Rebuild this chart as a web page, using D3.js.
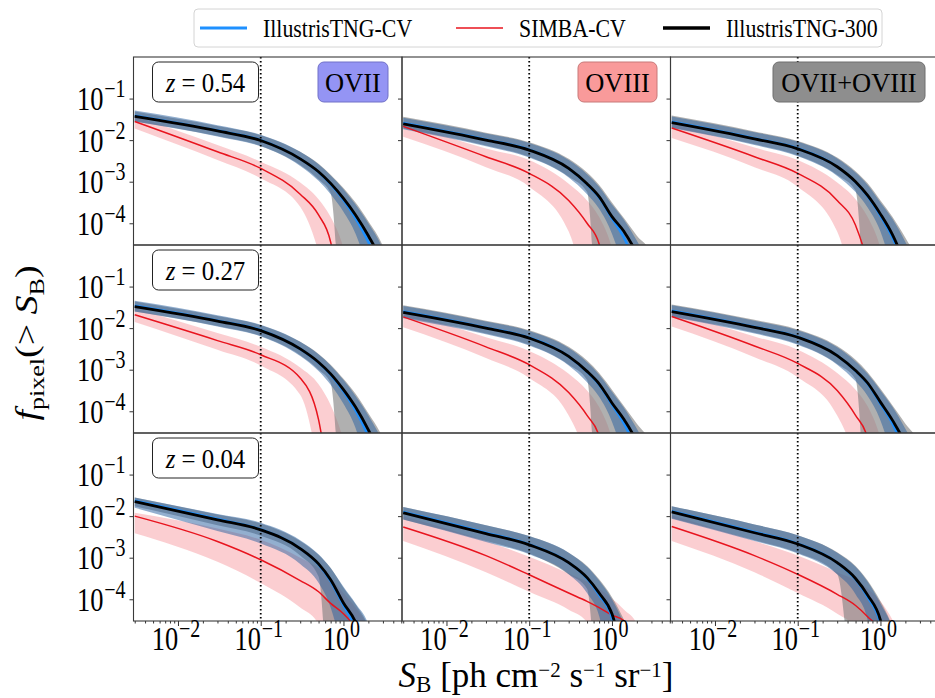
<!DOCTYPE html>
<html>
<head>
<meta charset="utf-8">
<script src="https://cdn.jsdelivr.net/npm/d3@7"></script>
<style>
  body { margin: 0; background: #fff; }
</style>
</head>
<body>
<div id="chart"></div>
<script>
// Surface brightness grid (ph cm^-2 s^-1 sr^-1) shared by every curve
const sbGrid = [0.003, 0.03, 0.1, 0.3, 0.5, 0.7, 1.0, 1.4, 2.0, 3.0, 5.0];

const redshifts = ["0.54", "0.27", "0.04"];
const ions = ["OVII", "OVIII", "OVII+OVIII"];
const seriesNames = ["IllustrisTNG-CV", "SIMBA-CV", "IllustrisTNG-300"];
const yTicks = [1e-1, 1e-2, 1e-3, 1e-4];
const yTickExp = ["−1", "−2", "−3", "−4"];
const xTicks = [1e-2, 1e-1, 1];
const xTickExp = ["−2", "−1", "0"];
const xMinorTicks = [3e-3, 4e-3, 5e-3, 6e-3, 7e-3, 8e-3, 9e-3,
  2e-2, 3e-2, 4e-2, 5e-2, 6e-2, 7e-2, 8e-2, 9e-2,
  0.2, 0.3, 0.4, 0.5, 0.6, 0.7, 0.8, 0.9, 2, 3, 4, 5];
const sbCut = 0.1;

// log10 f_pixel(>S_B), one row per panel (row-major: z=0.54, 0.27, 0.04 x OVII, OVIII, OVII+OVIII)
const tngCvMid = [
  [-1.41, -1.77, -2.00, -2.45, -2.77, -3.06, -3.44, -3.88, -4.45, -5.3, -7],
  [-1.59, -1.99, -2.23, -2.68, -3.06, -3.38, -3.88, -4.35, -5.1, -6.5, -8],
  [-1.56, -1.96, -2.20, -2.64, -3.01, -3.35, -3.82, -4.35, -5.1, -6.5, -8],
  [-1.46, -1.82, -2.05, -2.50, -2.83, -3.12, -3.52, -3.98, -4.6, -5.5, -7],
  [-1.60, -1.99, -2.23, -2.68, -3.05, -3.36, -3.84, -4.3, -5.0, -6.5, -8],
  [-1.58, -1.97, -2.21, -2.66, -3.03, -3.34, -3.82, -4.3, -5.05, -6.5, -8],
  [-1.63, -2.07, -2.32, -2.78, -3.16, -3.56, -4.15, -4.7, -5.8, -7, -8],
  [-1.90, -2.40, -2.68, -3.12, -3.50, -3.90, -4.45, -6, -8, -8, -8],
  [-1.88, -2.38, -2.66, -3.12, -3.52, -3.95, -4.6, -6.5, -8, -8, -8]
];
const tngCvLo = [
  [-1.55, -1.91, -2.15, -2.62, -2.98, -3.30, -3.72, -4.25, -5.2, -7, -8],
  [-1.74, -2.15, -2.42, -2.90, -3.30, -3.65, -4.25, -5.2, -7, -8, -8],
  [-1.71, -2.12, -2.39, -2.86, -3.25, -3.62, -4.2, -5.2, -7, -8, -8],
  [-1.60, -1.96, -2.20, -2.67, -3.03, -3.36, -3.82, -4.4, -5.5, -7, -8],
  [-1.76, -2.15, -2.42, -2.90, -3.30, -3.65, -4.25, -5.2, -7, -8, -8],
  [-1.73, -2.13, -2.40, -2.88, -3.28, -3.63, -4.22, -5.2, -7, -8, -8],
  [-1.80, -2.36, -2.66, -3.15, -3.60, -4.2, -5.5, -8, -8, -8, -8],
  [-2.08, -2.62, -2.92, -3.40, -3.85, -4.4, -6, -8, -8, -8, -8],
  [-2.06, -2.60, -2.90, -3.40, -3.88, -4.5, -6.5, -8, -8, -8, -8]
];
const tngCvHi = [
  [-1.29, -1.64, -1.87, -2.28, -2.58, -2.85, -3.18, -3.55, -4.0, -4.62, -6],
  [-1.46, -1.84, -2.07, -2.48, -2.82, -3.12, -3.55, -3.92, -4.42, -5.1, -7],
  [-1.43, -1.81, -2.04, -2.44, -2.78, -3.08, -3.50, -3.90, -4.45, -5.2, -7],
  [-1.34, -1.69, -1.92, -2.33, -2.63, -2.90, -3.25, -3.63, -4.1, -4.75, -6],
  [-1.47, -1.84, -2.07, -2.48, -2.82, -3.12, -3.53, -3.92, -4.42, -5.1, -6.5],
  [-1.45, -1.82, -2.05, -2.46, -2.80, -3.10, -3.50, -3.90, -4.42, -5.1, -6.5],
  [-1.55, -1.95, -2.16, -2.58, -2.92, -3.25, -3.70, -4.1, -4.6, -6, -8],
  [-1.78, -2.22, -2.48, -2.88, -3.22, -3.55, -4.0, -4.6, -5.5, -8, -8],
  [-1.76, -2.20, -2.46, -2.88, -3.22, -3.58, -4.1, -4.7, -6, -8, -8]
];
const simbaMid = [
  [-1.55, -2.28, -2.68, -3.30, -3.80, -4.45, -6.5, -8, -8, -8, -8],
  [-1.67, -2.40, -2.80, -3.45, -4.0, -4.5, -6.5, -8, -8, -8, -8],
  [-1.71, -2.40, -2.80, -3.45, -4.05, -5.0, -7, -8, -8, -8, -8],
  [-1.68, -2.30, -2.64, -3.20, -4.2, -6, -8, -8, -8, -8, -8],
  [-1.73, -2.45, -2.88, -3.55, -4.1, -4.6, -6.5, -8, -8, -8, -8],
  [-1.72, -2.43, -2.85, -3.50, -4.1, -4.65, -6.5, -8, -8, -8, -8],
  [-2.00, -2.61, -3.05, -3.55, -3.82, -4.1, -4.35, -4.7, -5.5, -7, -8],
  [-2.26, -2.95, -3.41, -3.85, -4.05, -4.2, -4.38, -4.52, -5.2, -7, -8],
  [-2.25, -2.95, -3.40, -3.88, -4.15, -4.42, -4.8, -6, -8, -8, -8]
];
const simbaLo = [
  [-1.72, -2.48, -2.92, -3.60, -4.7, -6, -8, -8, -8, -8, -8],
  [-1.92, -2.65, -3.12, -4.2, -6, -8, -8, -8, -8, -8, -8],
  [-1.95, -2.65, -3.12, -4.2, -6, -8, -8, -8, -8, -8, -8],
  [-1.85, -2.52, -2.90, -3.6, -5.5, -8, -8, -8, -8, -8, -8],
  [-1.98, -2.72, -3.20, -4.1, -5.5, -8, -8, -8, -8, -8, -8],
  [-1.96, -2.70, -3.18, -4.1, -5.5, -8, -8, -8, -8, -8, -8],
  [-2.41, -3.10, -3.61, -4.2, -4.6, -6, -8, -8, -8, -8, -8],
  [-2.60, -3.35, -3.82, -4.25, -4.55, -6, -8, -8, -8, -8, -8],
  [-2.60, -3.35, -3.85, -4.35, -4.7, -6, -8, -8, -8, -8, -8]
];
const simbaHi = [
  [-1.42, -2.12, -2.52, -3.02, -3.42, -3.85, -4.6, -6, -8, -8, -8],
  [-1.58, -2.20, -2.48, -3.05, -3.45, -3.85, -4.6, -6, -8, -8, -8],
  [-1.58, -2.18, -2.48, -3.02, -3.42, -3.85, -4.6, -6, -8, -8, -8],
  [-1.52, -2.12, -2.45, -2.95, -3.35, -3.85, -4.7, -6, -8, -8, -8],
  [-1.58, -2.22, -2.55, -3.10, -3.50, -3.90, -4.65, -6, -8, -8, -8],
  [-1.58, -2.20, -2.52, -3.08, -3.48, -3.88, -4.65, -6, -8, -8, -8],
  [-1.92, -2.30, -2.57, -3.00, -3.25, -3.50, -3.85, -4.2, -4.7, -6, -8],
  [-2.00, -2.60, -2.98, -3.38, -3.58, -3.75, -3.98, -4.25, -4.6, -6, -8],
  [-1.98, -2.60, -2.95, -3.35, -3.55, -3.75, -4.05, -4.5, -5.2, -7, -8]
];
const tng300Mid = [
  [-1.43, -1.78, -2.01, -2.45, -2.76, -3.04, -3.40, -3.80, -4.30, -5.0, -6.5],
  [-1.61, -2.00, -2.24, -2.68, -3.05, -3.36, -3.84, -4.2, -4.75, -5.8, -7.5],
  [-1.58, -1.97, -2.21, -2.64, -3.00, -3.33, -3.78, -4.28, -5.0, -6, -7.5],
  [-1.48, -1.83, -2.06, -2.50, -2.82, -3.10, -3.48, -3.90, -4.45, -5.2, -6.5],
  [-1.62, -2.00, -2.24, -2.68, -3.04, -3.34, -3.80, -4.2, -4.75, -5.8, -7],
  [-1.60, -1.98, -2.22, -2.66, -3.02, -3.32, -3.78, -4.22, -4.8, -5.9, -7],
  [-1.65, -2.09, -2.33, -2.78, -3.15, -3.53, -4.09, -4.55, -5.5, -7, -8],
  [-1.92, -2.42, -2.69, -3.12, -3.48, -3.85, -4.35, -5.5, -7, -8, -8],
  [-1.90, -2.40, -2.67, -3.12, -3.50, -3.90, -4.5, -6, -8, -8, -8]
];
const tng300Lo = [
  [-1.55, -1.90, -2.14, -2.60, -2.95, -3.28, -7, -8, -8, -8, -8],
  [-1.72, -2.13, -2.40, -2.88, -3.25, -7, -8, -8, -8, -8, -8],
  [-1.70, -2.10, -2.37, -2.84, -3.22, -7, -8, -8, -8, -8, -8],
  [-1.60, -1.95, -2.19, -2.65, -3.00, -3.32, -7, -8, -8, -8, -8],
  [-1.74, -2.13, -2.40, -2.88, -3.25, -7, -8, -8, -8, -8, -8],
  [-1.72, -2.11, -2.38, -2.86, -3.23, -7, -8, -8, -8, -8, -8],
  [-1.76, -2.22, -2.47, -2.95, -3.45, -7, -8, -8, -8, -8, -8],
  [-2.08, -2.60, -2.90, -3.40, -3.75, -7, -8, -8, -8, -8, -8],
  [-2.05, -2.58, -2.88, -3.40, -7, -8, -8, -8, -8, -8, -8]
];
const tng300Hi = [
  [-1.31, -1.66, -1.88, -2.28, -2.57, -2.83, -3.15, -3.50, -3.95, -4.55, -6],
  [-1.44, -1.82, -2.05, -2.45, -2.78, -3.08, -3.50, -3.88, -4.3, -4.75, -7],
  [-1.41, -1.79, -2.02, -2.42, -2.75, -3.04, -3.45, -3.85, -4.35, -5.0, -6.5],
  [-1.36, -1.71, -1.93, -2.33, -2.62, -2.88, -3.22, -3.58, -4.05, -4.65, -6],
  [-1.45, -1.82, -2.05, -2.45, -2.78, -3.08, -3.48, -3.88, -4.3, -4.8, -6.5],
  [-1.43, -1.80, -2.03, -2.43, -2.76, -3.06, -3.46, -3.86, -4.3, -4.8, -6.5],
  [-1.55, -1.96, -2.18, -2.60, -2.93, -3.25, -3.72, -4.12, -4.65, -5.8, -7],
  [-1.78, -2.22, -2.48, -2.88, -3.20, -3.52, -3.95, -4.5, -5.3, -8, -8],
  [-1.76, -2.20, -2.46, -2.87, -3.20, -3.55, -4.05, -4.65, -5.5, -8, -8]
];

// Layout
const W = 935, H = 698;
const FONT = "'Liberation Serif', 'DejaVu Serif', 'Times New Roman', serif";
const panelLeft = 133.5, panelTop = 57, panelW = 268.5, panelH = 188;

const svg = d3.select("#chart").append("svg")
  .attr("width", W).attr("height", H)
  .attr("font-family", FONT);

const x = d3.scaleLog().domain([2.9e-3, 5.1]).range([0, panelW]);
const y = d3.scaleLog().domain([3e-5, 1]).range([panelH, 0]);

svg.append("defs").append("clipPath").attr("id", "clip")
  .append("rect").attr("width", panelW).attr("height", panelH);

const colors = {
  tngCvLine: "#1e90ff",
  tngCvBand: "rgba(40,95,160,0.5)",
  simbaLine: "#e8141e",
  simbaBand: "rgba(240,60,70,0.25)",
  tng300Line: "#000",
  tng300Band: "rgba(128,128,128,0.62)"
};

const line = d3.line()
  .x(d => x(d[0]))
  .y(d => y(Math.pow(10, d[1])))
  .curve(d3.curveMonotoneX);

const area = d3.area()
  .x(d => x(d[0]))
  .y0(d => y(Math.pow(10, d[1])))
  .y1(d => y(Math.pow(10, d[2])))
  .curve(d3.curveMonotoneX);

const pts = vals => sbGrid.map((s, i) => [s, vals[i]]);
const band = (lo, hi) => sbGrid.map((s, i) => [s, lo[i], hi[i]]);

// text squeezed horizontally (the original figure is narrower than tall)
function sText(parent, tx, ty, sx, extra) {
  return parent.append("g")
    .attr("transform", `translate(${tx},${ty}) scale(${sx},1)` + (extra || ""))
    .append("text")
    .attr("font-family", FONT)
    .attr("fill", "#000");
}

function powLabel(parent, tx, ty, exp, anchor) {
  const t = sText(parent, tx, ty, 0.8).attr("text-anchor", anchor).style("font-size", "33px");
  t.append("tspan").text("10");
  t.append("tspan").attr("dy", -13).attr("dx", 1).style("font-size", "25px").text(exp);
}

for (let r = 0; r < 3; r++) {
  for (let c = 0; c < 3; c++) {
    const p = r * 3 + c;
    const g = svg.append("g")
      .attr("transform", `translate(${panelLeft + c * panelW},${panelTop + r * panelH})`);

    const plot = g.append("g").attr("clip-path", "url(#clip)");

    plot.append("path").attr("d", area(band(simbaLo[p], simbaHi[p])))
      .attr("fill", colors.simbaBand);
    plot.append("path").attr("d", area(band(tng300Lo[p], tng300Hi[p])))
      .attr("fill", colors.tng300Band);
    plot.append("path").attr("d", area(band(tngCvLo[p], tngCvHi[p])))
      .attr("fill", colors.tngCvBand);

    plot.append("path").attr("d", line(pts(simbaMid[p])))
      .attr("fill", "none").attr("stroke", colors.simbaLine).attr("stroke-width", 1.5);
    plot.append("path").attr("d", line(pts(tngCvMid[p])))
      .attr("fill", "none").attr("stroke", colors.tngCvLine).attr("stroke-width", 2.5);
    plot.append("path").attr("d", line(pts(tng300Mid[p])))
      .attr("fill", "none").attr("stroke", colors.tng300Line).attr("stroke-width", 2.8);

    // dotted detection threshold
    g.append("line")
      .attr("x1", x(sbCut)).attr("x2", x(sbCut))
      .attr("y1", 0).attr("y2", panelH)
      .attr("stroke", "#000").attr("stroke-width", 1.8)
      .attr("stroke-dasharray", "1.6,2.4");

    // y ticks
    const ya = g.append("g").call(d3.axisLeft(y).tickValues(yTicks).tickSize(4).tickFormat(""));
    ya.select(".domain").remove();
    ya.selectAll("line").attr("stroke", "#333");

    // x ticks on bottom row
    if (r === 2) {
      const xa = g.append("g").attr("transform", `translate(0,${panelH})`)
        .call(d3.axisBottom(x).tickValues(xTicks).tickSize(5).tickFormat(""));
      xa.select(".domain").remove();
      xa.selectAll("line").attr("stroke", "#333");
      const xm = g.append("g").attr("transform", `translate(0,${panelH})`)
        .call(d3.axisBottom(x).tickValues(xMinorTicks).tickSize(2.5).tickFormat(""));
      xm.select(".domain").remove();
      xm.selectAll("line").attr("stroke", "#333");
      xTicks.forEach((v, i) => powLabel(svg, panelLeft + c * panelW + x(v) - 2, panelTop + 3 * panelH + 29, xTickExp[i], "middle"));
    }

    // frame
    g.append("rect").attr("width", panelW).attr("height", panelH)
      .attr("fill", "none").attr("stroke", "#3a3a3a").attr("stroke-width", 1.1);

    // y tick labels
    if (c === 0) {
      yTicks.forEach((v, i) => powLabel(svg, panelLeft - 8, panelTop + r * panelH + y(v) + 11.5, yTickExp[i], "end"));

      // redshift box
      g.append("rect").attr("x", 19).attr("y", 5).attr("width", 106).attr("height", 40)
        .attr("rx", 6).attr("fill", "#fff").attr("stroke", "#222").attr("stroke-width", 1);
      const zt = sText(g, 72, 35, 0.92).attr("text-anchor", "middle").style("font-size", "27px");
      zt.append("tspan").style("font-style", "italic").text("z");
      zt.append("tspan").text(" = " + redshifts[r]);
    }
  }
}

// ion labels on top row
const ionBoxes = [
  { x0: 318, w: 70, fill: "#9494f4", stroke: "#7070c8" },
  { x0: 578, w: 79, fill: "#f99a9a", stroke: "#c87878" },
  { x0: 773, w: 152, fill: "#8e8e8e", stroke: "#6e6e6e" }
];
ions.forEach((ion, i) => {
  const b = ionBoxes[i];
  svg.append("rect").attr("x", b.x0).attr("y", 62).attr("width", b.w).attr("height", 40)
    .attr("rx", 6).attr("fill", b.fill).attr("stroke", b.stroke).attr("stroke-width", 1);
  sText(svg, b.x0 + b.w / 2, 92, 0.98).attr("text-anchor", "middle").style("font-size", "27px").text(ion);
});

// legend
svg.append("rect").attr("x", 194).attr("y", 9).attr("width", 688).attr("height", 38)
  .attr("rx", 4).attr("fill", "#fff").attr("stroke", "#d4d4d4").attr("stroke-width", 1);
const legendItems = [
  { x0: 200, color: colors.tngCvLine, w: 3 },
  { x0: 456, color: colors.simbaLine, w: 1.6 },
  { x0: 663, color: colors.tng300Line, w: 3.5 }
];
seriesNames.forEach((name, i) => {
  const it = legendItems[i];
  svg.append("line").attr("x1", it.x0).attr("x2", it.x0 + 47).attr("y1", 28).attr("y2", 28)
    .attr("stroke", it.color).attr("stroke-width", it.w);
  sText(svg, it.x0 + 63, 37, 0.84).style("font-size", "26px").text(name);
});

// axis titles
const xt = sText(svg, 536, 687, 1.0).attr("text-anchor", "middle").style("font-size", "35px");
xt.append("tspan").style("font-style", "italic").text("S");
xt.append("tspan").attr("dy", 5).style("font-size", "23px").text("B");
xt.append("tspan").attr("dy", -5).text(" [ph cm");
xt.append("tspan").attr("dy", -10).style("font-size", "21px").text("−2");
xt.append("tspan").attr("dy", 10).text(" s");
xt.append("tspan").attr("dy", -10).style("font-size", "21px").text("−1");
xt.append("tspan").attr("dy", 10).text(" sr");
xt.append("tspan").attr("dy", -10).style("font-size", "21px").text("−1");
xt.append("tspan").attr("dy", 10).text("]");

const yt = sText(svg, 37, 343, 0.84, " rotate(-90)").attr("text-anchor", "middle").style("font-size", "38px");
yt.append("tspan").style("font-style", "italic").text("f");
yt.append("tspan").attr("dy", 8).style("font-size", "26px").text("pixel");
yt.append("tspan").attr("dy", -8).text("(> ");
yt.append("tspan").style("font-style", "italic").text("S");
yt.append("tspan").attr("dy", 8).style("font-size", "26px").text("B");
yt.append("tspan").attr("dy", -8).text(")");
</script>
</body>
</html>
